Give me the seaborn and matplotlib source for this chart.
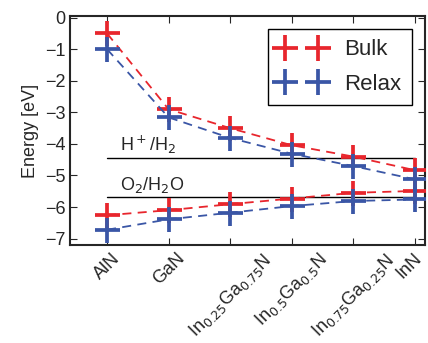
import matplotlib
matplotlib.use('Agg')
import matplotlib.pyplot as plt
from matplotlib.lines import Line2D
from matplotlib.transforms import ScaledTranslation
import seaborn as sns

# compositions along the x axis
materials = ['AlN', 'GaN', r'In$_{0.25}$Ga$_{0.75}$N', r'In$_{0.5}$Ga$_{0.5}$N',
             r'In$_{0.75}$Ga$_{0.25}$N', 'InN']

# band edges (eV)
bulk_cbm = [-0.5, -2.9, -3.5, -4.04, -4.4, -4.83]
bulk_vbm = [-6.26, -6.1, -5.91, -5.73, -5.55, -5.49]
relax_cbm = [-1.0, -3.16, -3.81, -4.31, -4.7, -5.12]
relax_vbm = [-6.72, -6.39, -6.18, -5.97, -5.81, -5.76]

# water redox levels
h_level = -4.44
o_level = -5.67

red = '#e8262d'
blue = '#3a56a6'

sns.set_style('ticks')
plt.rcParams['font.family'] = ['Liberation Sans', 'DejaVu Sans']
plt.rcParams['xtick.direction'] = 'in'
plt.rcParams['ytick.direction'] = 'in'
plt.rcParams['xtick.top'] = True
plt.rcParams['ytick.right'] = True

fig, ax = plt.subplots(figsize=(4.28, 3.43), dpi=100)
fig.subplots_adjust(left=0.164, right=0.993, top=0.953, bottom=0.286)

xs = list(range(len(materials)))
series = [(bulk_cbm, red), (bulk_vbm, red), (relax_cbm, blue), (relax_vbm, blue)]
for vals, col in series:
    sns.lineplot(x=xs, y=vals, ax=ax, color=col, linestyle=(0, (5, 3.5)), linewidth=1.3,
                 marker='+', markersize=18, markeredgewidth=2.7,
                 markeredgecolor=col, legend=False, zorder=3)

# redox levels as one path, closed at InN
ax.plot([0, 5, 5, 0], [h_level, h_level, o_level, o_level], color='black', lw=1.0, zorder=1)
ax.text(0.21, h_level + 0.06, r'H$^+$/H$_2$', fontsize=13, va='bottom')
ax.text(0.21, o_level + 0.06, r'O$_2$/H$_2$O', fontsize=13, va='bottom')

ax.set_xlim(-0.6, 5.17)
ax.set_ylim(-7.2, 0.05)
ax.set_yticks(range(-7, 1))
ax.set_yticklabels(['\u22127', '\u22126', '\u22125', '\u22124', '\u22123', '\u22122', '\u22121', '0'])
ax.set_xticks(xs)
ax.set_xticklabels(materials, rotation=45)
ax.tick_params(labelsize=13, length=5, width=0.8)
ax.set_ylabel('Energy [eV]', fontsize=13)
for sp in ax.spines.values():
    sp.set_linewidth(1.5)

# nudge the last label so it stays inside the figure
last = ax.get_xticklabels()[-1]
last.set_transform(last.get_transform() + ScaledTranslation(-4 / 72, 0, fig.dpi_scale_trans))

handles = [Line2D([], [], color=red, linestyle='none', marker='+', markersize=19, markeredgewidth=2.7),
           Line2D([], [], color=blue, linestyle='none', marker='+', markersize=19, markeredgewidth=2.7)]
leg = ax.legend(handles, ['Bulk', 'Relax'], loc='upper right', numpoints=2, fontsize=16,
                fancybox=False, edgecolor='black', framealpha=1, borderaxespad=0.6,
                handlelength=2.1, handletextpad=0.9, borderpad=0.45, labelspacing=0.6)
leg.get_frame().set_linewidth(1.0)

fig.savefig('out.png', dpi=100)
